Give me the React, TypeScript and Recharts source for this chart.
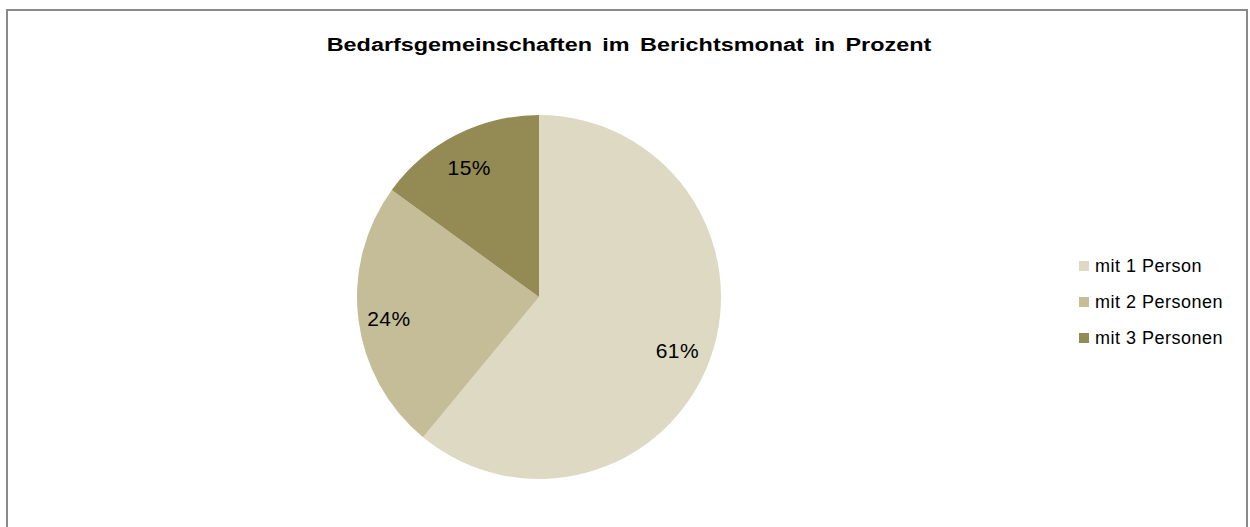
import { Legend, Pie, PieChart, Cell } from "recharts";

const categories = ["mit 1 Person", "mit 2 Personen", "mit 3 Personen"];
const shares = [61, 24, 15];
const colors = ["#DDD9C3", "#C4BD97", "#948A54"];

const data = categories.map((name, i) => ({ name, value: shares[i] }));

const RAD = Math.PI / 180;

function renderLabel(props: any) {
  const { cx, cy, midAngle, outerRadius, value } = props;
  const r = outerRadius * 0.82;
  const x = cx + r * Math.cos(-midAngle * RAD) - 2;
  const y = cy + r * Math.sin(-midAngle * RAD) + 3;
  return (
    <text
      x={x}
      y={y}
      textAnchor="middle"
      dominantBaseline="central"
      fill="#000"
      fontSize={21}
      letterSpacing={0.5}
      fontFamily="'Liberation Sans', Arial, sans-serif"
    >
      {`${value}%`}
    </text>
  );
}

function LegendList(props: any) {
  const { payload } = props;
  return (
    <div style={{ fontFamily: "'Liberation Sans', Arial, sans-serif", fontSize: 18, letterSpacing: 0.5 }}>
      {payload.map((entry: any) => (
        <div key={entry.value} style={{ display: "flex", alignItems: "center", height: 36 }}>
          <span
            style={{
              display: "inline-block",
              width: 10,
              height: 10,
              background: entry.color,
              marginRight: 6,
            }}
          />
          <span style={{ color: "#000" }}>{entry.value}</span>
        </div>
      ))}
    </div>
  );
}

export default function App() {
  return (
    <div
      style={{
        position: "absolute",
        left: 6,
        top: 9,
        width: 1242,
        height: 530,
        border: "2px solid #8a8a8a",
        background: "#fff",
        boxSizing: "border-box",
      }}
    >
      <div
        style={{
          position: "absolute",
          top: 24,
          left: 3,
          width: 1236,
          textAlign: "center",
          fontFamily: "'Liberation Sans', Arial, sans-serif",
          fontWeight: "bold",
          fontSize: 18,
          wordSpacing: 3,
          color: "#000",
          transform: "scaleX(1.3)",
          transformOrigin: "center",
        }}
      >
        Bedarfsgemeinschaften im Berichtsmonat in Prozent
      </div>
      <PieChart width={1238} height={526}>
        <Pie
          data={data}
          dataKey="value"
          nameKey="name"
          cx={526}
          cy={281}
          outerRadius={182}
          startAngle={90}
          endAngle={-270}
          stroke="none"
          label={renderLabel}
          labelLine={false}
          isAnimationActive={false}
        >
          {data.map((d, i) => (
            <Cell key={d.name} fill={colors[i]} />
          ))}
        </Pie>
        <Legend
          layout="vertical"
          align="right"
          verticalAlign="top"
          content={<LegendList />}
          wrapperStyle={{ left: 1071, top: 237, width: 170 }}
        />
      </PieChart>
    </div>
  );
}
